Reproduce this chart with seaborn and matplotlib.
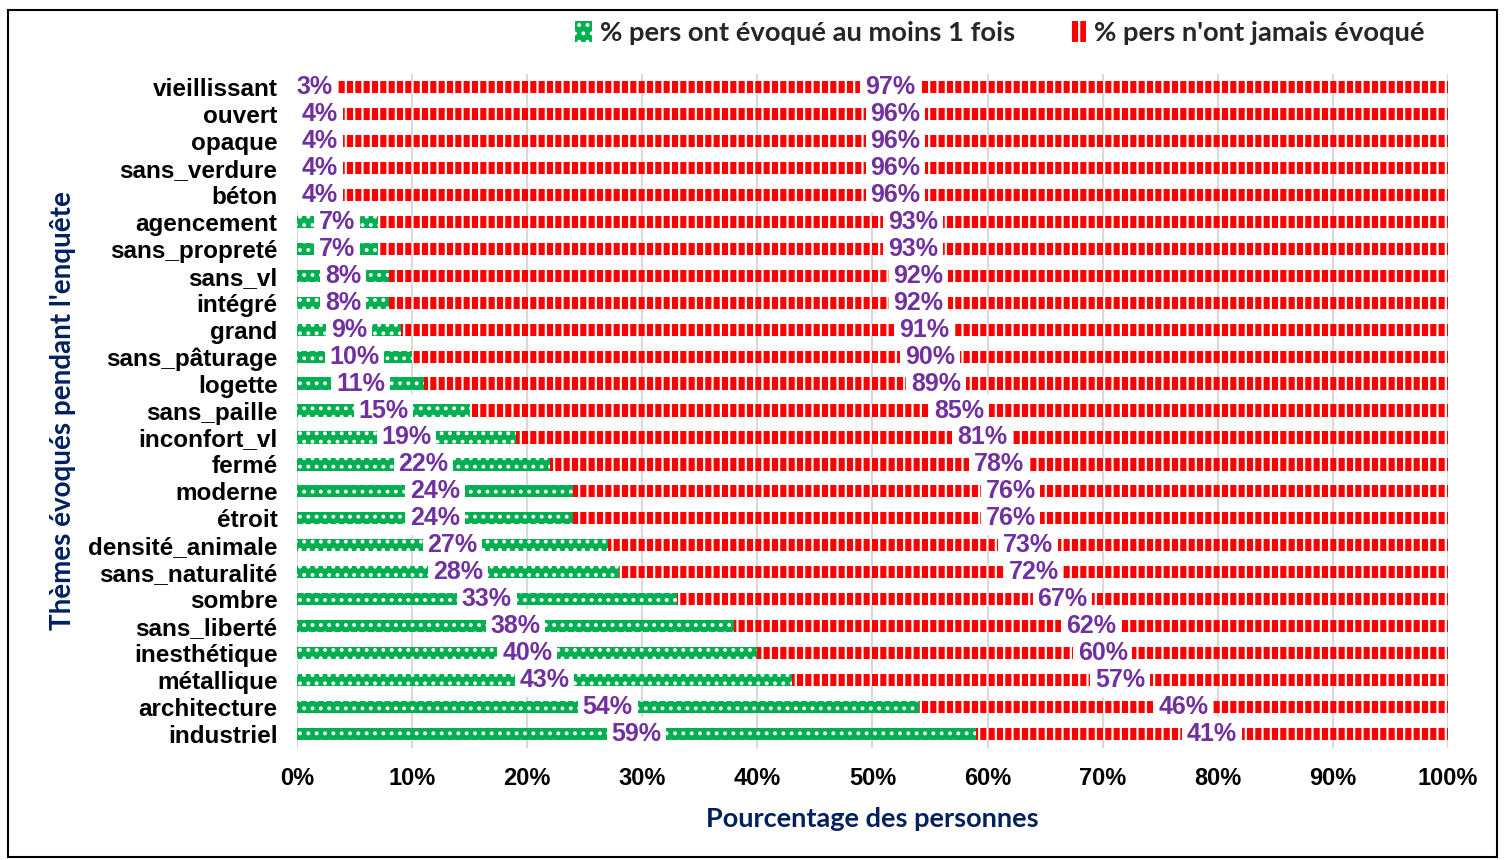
import numpy as np
import pandas as pd
import matplotlib.pyplot as plt
import seaborn as sns
from matplotlib.patches import Patch, Rectangle

# données
themes = ["vieillissant", "ouvert", "opaque", "sans_verdure", "béton", "agencement",
          "sans_propreté", "sans_vl", "intégré", "grand", "sans_pâturage", "logette",
          "sans_paille", "inconfort_vl", "fermé", "moderne", "étroit", "densité_animale",
          "sans_naturalité", "sombre", "sans_liberté", "inesthétique", "métallique",
          "architecture", "industriel"]
evoque = [3, 4, 4, 4, 4, 7, 7, 8, 8, 9, 10, 11, 15, 19, 22, 24, 24, 27, 28, 33, 38, 40, 43, 54, 59]
jamais = [97, 96, 96, 96, 96, 93, 93, 92, 92, 91, 90, 89, 85, 81, 78, 76, 76, 73, 72, 67, 62, 60, 57, 46, 41]
xticks = [0, 10, 20, 30, 40, 50, 60, 70, 80, 90, 100]

lab_evoque = "% pers ont évoqué au moins 1 fois"
lab_jamais = "% pers n'ont jamais évoqué"

df = pd.DataFrame({"theme": themes, "evoque": evoque, "jamais": jamais})
df["total"] = df["evoque"] + df["jamais"]

sns.set_theme(style="white")
plt.rcParams['font.family'] = ['Liberation Sans', 'DejaVu Sans']
plt.rcParams['hatch.linewidth'] = 1.6

GREEN = "#00B050"
RED = "#FF0000"
PURPLE = "#7030A0"
NAVY = "#002060"

fig = plt.figure(figsize=(15.1, 8.6), dpi=100)
ax = fig.add_axes([0.1967, 0.1308, 0.7622, 0.7837])

# barres rouges (total) puis vertes par-dessus
sns.barplot(data=df, y="theme", x="total", color=RED, orient="h", width=0.45, ax=ax)
n_red = len(ax.patches)
sns.barplot(data=df, y="theme", x="evoque", color=GREEN, orient="h", width=0.45, ax=ax)

for i, p in enumerate(ax.patches):
    p.set_linewidth(0)
    p.set_edgecolor("white")
    if i < n_red:
        p.set_facecolor(RED)
        p.set_hatch("||")
    else:
        p.set_facecolor(GREEN)
        p.set_hatch("..")

# étiquettes
for i, (e, j) in enumerate(zip(evoque, jamais)):
    for xc, val in [(e / 2, e), (e + j / 2, j)]:
        ax.text(xc, i, f"{val}%", ha="center", va="center", color=PURPLE,
                fontsize=18, fontweight="bold",
                bbox=dict(facecolor="white", edgecolor="none", pad=3.5))

ax.set_xlim(0, 100)
ax.set_ylim(len(themes) - 0.5, -0.5)
ax.set_xticks(xticks)
ax.set_xticklabels([f"{t}%" for t in xticks], fontsize=17, fontweight="bold", color="black")
ax.set_yticklabels(themes, fontsize=17.5, fontweight="bold", color="black")
ax.tick_params(axis="y", length=0, pad=14)
ax.tick_params(axis="x", length=0, pad=14)
ax.xaxis.grid(True, color="#d9d9d9", linewidth=1.5)
ax.set_axisbelow(True)
for s in ax.spines.values():
    s.set_visible(False)

ax.set_xlabel("Pourcentage des personnes", fontsize=19.5, fontweight="bold",
              color=NAVY, family=["Lato", "DejaVu Sans"], labelpad=12)
ax.set_ylabel("Thèmes évoqués pendant l'enquête", fontsize=20, fontweight="bold",
              color=NAVY, family=["Lato", "DejaVu Sans"])
ax.yaxis.set_label_coords(-0.192, 0.5)

handles = [Patch(facecolor=GREEN, edgecolor="white", hatch="..", linewidth=0, label=lab_evoque),
           Patch(facecolor=RED, edgecolor="white", hatch="||", linewidth=0, label=lab_jamais)]
fig.legend(handles=handles, loc="center right", bbox_to_anchor=(0.96, 0.962), ncol=2,
           frameon=False, handlelength=0.6, handleheight=0.8, handletextpad=0.3,
           columnspacing=2.0, prop={"family": ["Lato", "DejaVu Sans"], "weight": "bold", "size": 19.7})

fig.patches.append(Rectangle((0.0053, 0.003), 0.986, 0.985, transform=fig.transFigure,
                             fill=False, edgecolor="black", linewidth=1.5))

fig.savefig("out.png", dpi=100)
